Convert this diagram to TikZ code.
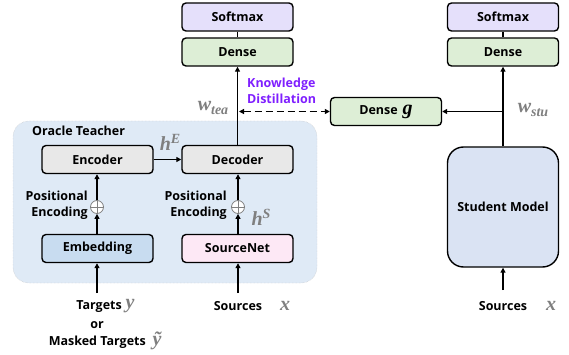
\documentclass[tikz,border=0pt]{standalone}
\usepackage{fontspec}
\setmainfont{Open Sans}
\newfontfamily\symfont{Liberation Serif}
\usetikzlibrary{arrows.meta}
\definecolor{softc}{HTML}{E5E0FB}
\definecolor{densec}{HTML}{DDEED6}
\definecolor{grayc}{HTML}{E8E8E8}
\definecolor{embc}{HTML}{C8DCF0}
\definecolor{srcc}{HTML}{FDE8F5}
\definecolor{bgc}{HTML}{DFEAF6}
\definecolor{stuc}{HTML}{DAE3F3}
\definecolor{kdc}{HTML}{7F1FFF}
\definecolor{symc}{HTML}{7F7F7F}
\newcommand{\sv}[1]{{\symfont\bfseries\itshape\fontsize{20}{22}\selectfont #1}}
\newcommand{\svsub}[2]{{\symfont\bfseries\itshape\fontsize{20}{22}\selectfont #1\raisebox{-4pt}{\fontsize{14}{16}\selectfont #2}}}
\newcommand{\svsup}[2]{{\symfont\bfseries\itshape\fontsize{20}{22}\selectfont #1\raisebox{7pt}{\fontsize{14}{16}\selectfont #2}}}
\tikzset{
  box/.style={draw, line width=1.4pt, rounded corners=4pt, minimum width=111pt, minimum height=28pt, inner sep=0pt, font=\fontsize{12.5}{14}\selectfont\bfseries},
  lbl/.style={font=\fontsize{12.5}{16}\selectfont\bfseries, inner sep=0pt},
  sym/.style={text=symc, inner sep=0pt},
  arr/.style={line width=1.4pt, -{Triangle[length=5pt,width=5pt]}},
  ln/.style={line width=1.4pt},
  plus/.style={circle, draw=gray, fill=white, line width=0.8pt, minimum size=13pt, inner sep=0pt}
}
\begin{document}
\begin{tikzpicture}[x=1pt,y=-1pt]
\useasboundingbox (0,0) rectangle (569,355);
% Oracle teacher background
\node[draw=gray!55, densely dotted, fill=bgc, rounded corners=16pt, minimum width=304pt, minimum height=162pt, inner sep=0pt] (oracle) at (165,202) {};
\node[lbl, anchor=west] (otl) at (32,131) {Oracle Teacher};
% Teacher column
\node[box, fill=softc] (smT) at (237.5,17) {Softmax};
\node[box, fill=densec] (dT) at (237.5,52) {Dense};
\node[box, fill=grayc] (enc) at (97.5,159.5) {Encoder};
\node[box, fill=grayc] (dec) at (237.5,159.5) {Decoder};
\node[box, fill=embc] (emb) at (97.5,248.5) {Embedding};
\node[box, fill=srcc] (src) at (237.5,248.5) {SourceNet};
\node[plus] (p1) at (97,207) {};
\node[plus] (p2) at (238,207) {};
\draw[gray, line width=0.8pt] (p1.north) -- (p1.south) (p1.west) -- (p1.east);
\draw[gray, line width=0.8pt] (p2.north) -- (p2.south) (p2.west) -- (p2.east);
\node[lbl, align=right, anchor=east] (pe1) at (88,205) {Positional\\Encoding};
\node[lbl, align=right, anchor=east] (pe2) at (227,205) {Positional\\Encoding};
% Student column
\node[box, fill=softc] (smS) at (503,17) {Softmax};
\node[box, fill=densec] (dS) at (503,52) {Dense};
\node[box, fill=densec] (dg) at (386,111.5) {Dense\hspace{5pt}\sv{g}};
\node[box, fill=stuc, rounded corners=16pt, minimum height=120pt] (stu) at (503,207) {Student Model};
% Connectors
\draw[ln] (smT.south) -- (dT.north);
\draw[ln] (smS.south) -- (dS.north);
\draw[arr] (dec.north) -- (dT.south);
\draw[arr] (enc.east) -- (dec.west);
\draw[arr] (emb.north -| p1) -- (p1.south);
\draw[arr] (p1.north) -- (enc.south -| p1);
\draw[arr] (src.north -| p2) -- (p2.south);
\draw[arr] (p2.north) -- (dec.south -| p2);
\draw[arr] (stu.north) -- (dS.south);
\coordinate (brS) at (503,111.5);
\draw[arr] (brS) -- (dg.east);
\coordinate (brT) at (238,111.5);
\draw[line width=1.4pt, dash pattern=on 7pt off 4pt, {Triangle[length=5pt,width=5pt]}-{Triangle[length=5pt,width=5pt]}] ([xshift=1pt]brT) -- (dg.west);
% Inputs
\coordinate (inY) at (97,293);
\coordinate (inX) at (238,293);
\coordinate (inS) at (503,290);
\draw[arr] (inY) -- (emb.south -| inY);
\draw[arr] (inX) -- (src.south -| inX);
\draw[arr] (inS) -- (stu.south);
% Labels
\node[lbl, text=kdc, align=left, anchor=west] (kd) at (247,91) {Knowledge\\Distillation};
\node[sym] (wtea) at (213,108) {\svsub{w}{tea}};
\node[sym] (wstu) at (533,110) {\svsub{w}{stu}};
\node[sym] (hE) at (170,142) {\svsup{h}{E}};
\node[sym] (hS) at (261,217) {\svsup{h}{S}};
\node[lbl, anchor=east] (tgt) at (122,307) {Targets};
\node[sym] (ysym) at (130,306) {\sv{y}};
\node[lbl] (or) at (97,325) {or};
\node[lbl, anchor=east] (mtg) at (146,342) {Masked Targets};
\node[sym] (ytsym) at (157,341) {\sv{\~y}};
\node[lbl] (srcT) at (238,306) {Sources};
\node[sym] (xT) at (285,306) {\sv{x}};
\node[lbl] (srcS) at (503,306) {Sources};
\node[sym] (xS) at (551,306) {\sv{x}};
\end{tikzpicture}
\end{document}
